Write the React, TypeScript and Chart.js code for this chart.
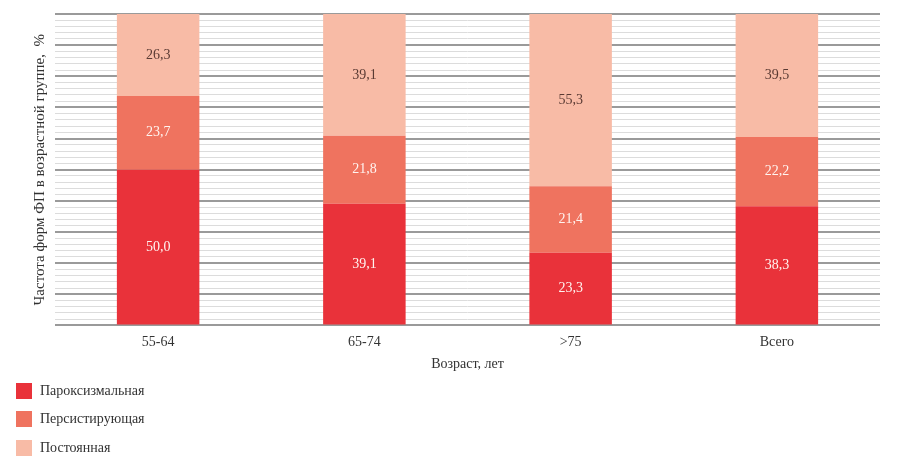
import React, { useEffect, useRef } from "react";
import { Chart, registerables } from "chart.js";

Chart.register(...registerables);

const categories = ["55-64", "65-74", ">75", "Всего"];
const seriesNames = ["Пароксизмальная", "Персистирующая", "Постоянная"];
const paroxysmal = [50.0, 39.1, 23.3, 38.3];
const persistent = [23.7, 21.8, 21.4, 22.2];
const permanent = [26.3, 39.1, 55.3, 39.5];
const seriesColors = ["#E9323A", "#EF735F", "#F8BBA6"];
const labelColors = ["#FFF4F0", "#FFF4F0", "#5A3A33"];
const xTitle = "Возраст, лет";
const yTitle = "Частота форм ФП в возрастной группе,  %";

const FONT = "'Liberation Serif', 'Times New Roman', serif";

const labelPlugin = {
  id: "barLabels",
  afterDatasetsDraw(chart: any) {
    const ctx = chart.ctx;
    ctx.save();
    ctx.font = `14px ${FONT}`;
    ctx.textAlign = "center";
    ctx.textBaseline = "middle";
    chart.data.datasets.forEach((ds: any, di: number) => {
      const meta = chart.getDatasetMeta(di);
      meta.data.forEach((bar: any, i: number) => {
        const v = ds.data[i];
        const cy = (bar.y + bar.base) / 2;
        ctx.fillStyle = labelColors[di];
        ctx.fillText(v.toFixed(1).replace(".", ","), bar.x, cy);
      });
    });
    ctx.restore();
  },
};

export default function App() {
  const ref = useRef<HTMLCanvasElement | null>(null);
  useEffect(() => {
    if (!ref.current) return;
    const data = [paroxysmal, persistent, permanent];
    const chart = new Chart(ref.current, {
      type: "bar",
      data: {
        labels: categories,
        datasets: data.map((d, i) => ({
          label: seriesNames[i],
          data: d,
          backgroundColor: seriesColors[i],
          borderWidth: 0,
          categoryPercentage: 1,
          barPercentage: 0.4,
        })),
      },
      options: {
        animation: false,
        responsive: false,
        maintainAspectRatio: false,
        layout: { padding: { top: 14, right: 20, bottom: 91, left: 0 } },
        plugins: { legend: { display: false }, tooltip: { enabled: false } },
        scales: {
          x: {
            stacked: true,
            grid: { display: false },
            border: { display: false },
            ticks: { color: "#333", font: { family: FONT, size: 14 }, padding: 1 },
            title: {
              display: true,
              text: xTitle,
              color: "#333",
              font: { family: FONT, size: 14 },
              padding: { top: 4, bottom: 0 },
            },
          },
          y: {
            stacked: true,
            min: 0,
            max: 100,
            border: { display: false },
            ticks: { display: false, stepSize: 2 },
            grid: {
              drawTicks: false,
              color: (c: any) => (Math.round(c.tick.value) % 10 === 0 ? "#9A9A9A" : "#DCDCDC"),
              lineWidth: (c: any) => (Math.round(c.tick.value) % 10 === 0 ? 2 : 1),
            },
            title: {
              display: true,
              text: yTitle,
              color: "#333",
              font: { family: FONT, size: 15 },
              padding: { top: 31, bottom: 0 },
            },
            afterFit: (s: any) => {
              s.width = 55;
            },
          },
        },
      },
      plugins: [labelPlugin],
    });
    return () => chart.destroy();
  }, []);

  return (
    <div style={{ position: "fixed", left: 0, top: 0, width: 900, height: 464, background: "#fff" }}>
      <canvas ref={ref} width={900} height={464} style={{ display: "block" }} />
      {seriesNames.map((n, i) => (
        <div
          key={n}
          style={{
            position: "absolute",
            left: 16,
            top: 382 + i * 28.5,
            display: "flex",
            alignItems: "center",
            fontFamily: FONT,
            fontSize: 14,
            color: "#333",
            height: 17,
          }}
        >
          <span style={{ display: "inline-block", width: 16, height: 16, background: seriesColors[i], marginRight: 8 }} />
          <span>{n}</span>
        </div>
      ))}
    </div>
  );
}
